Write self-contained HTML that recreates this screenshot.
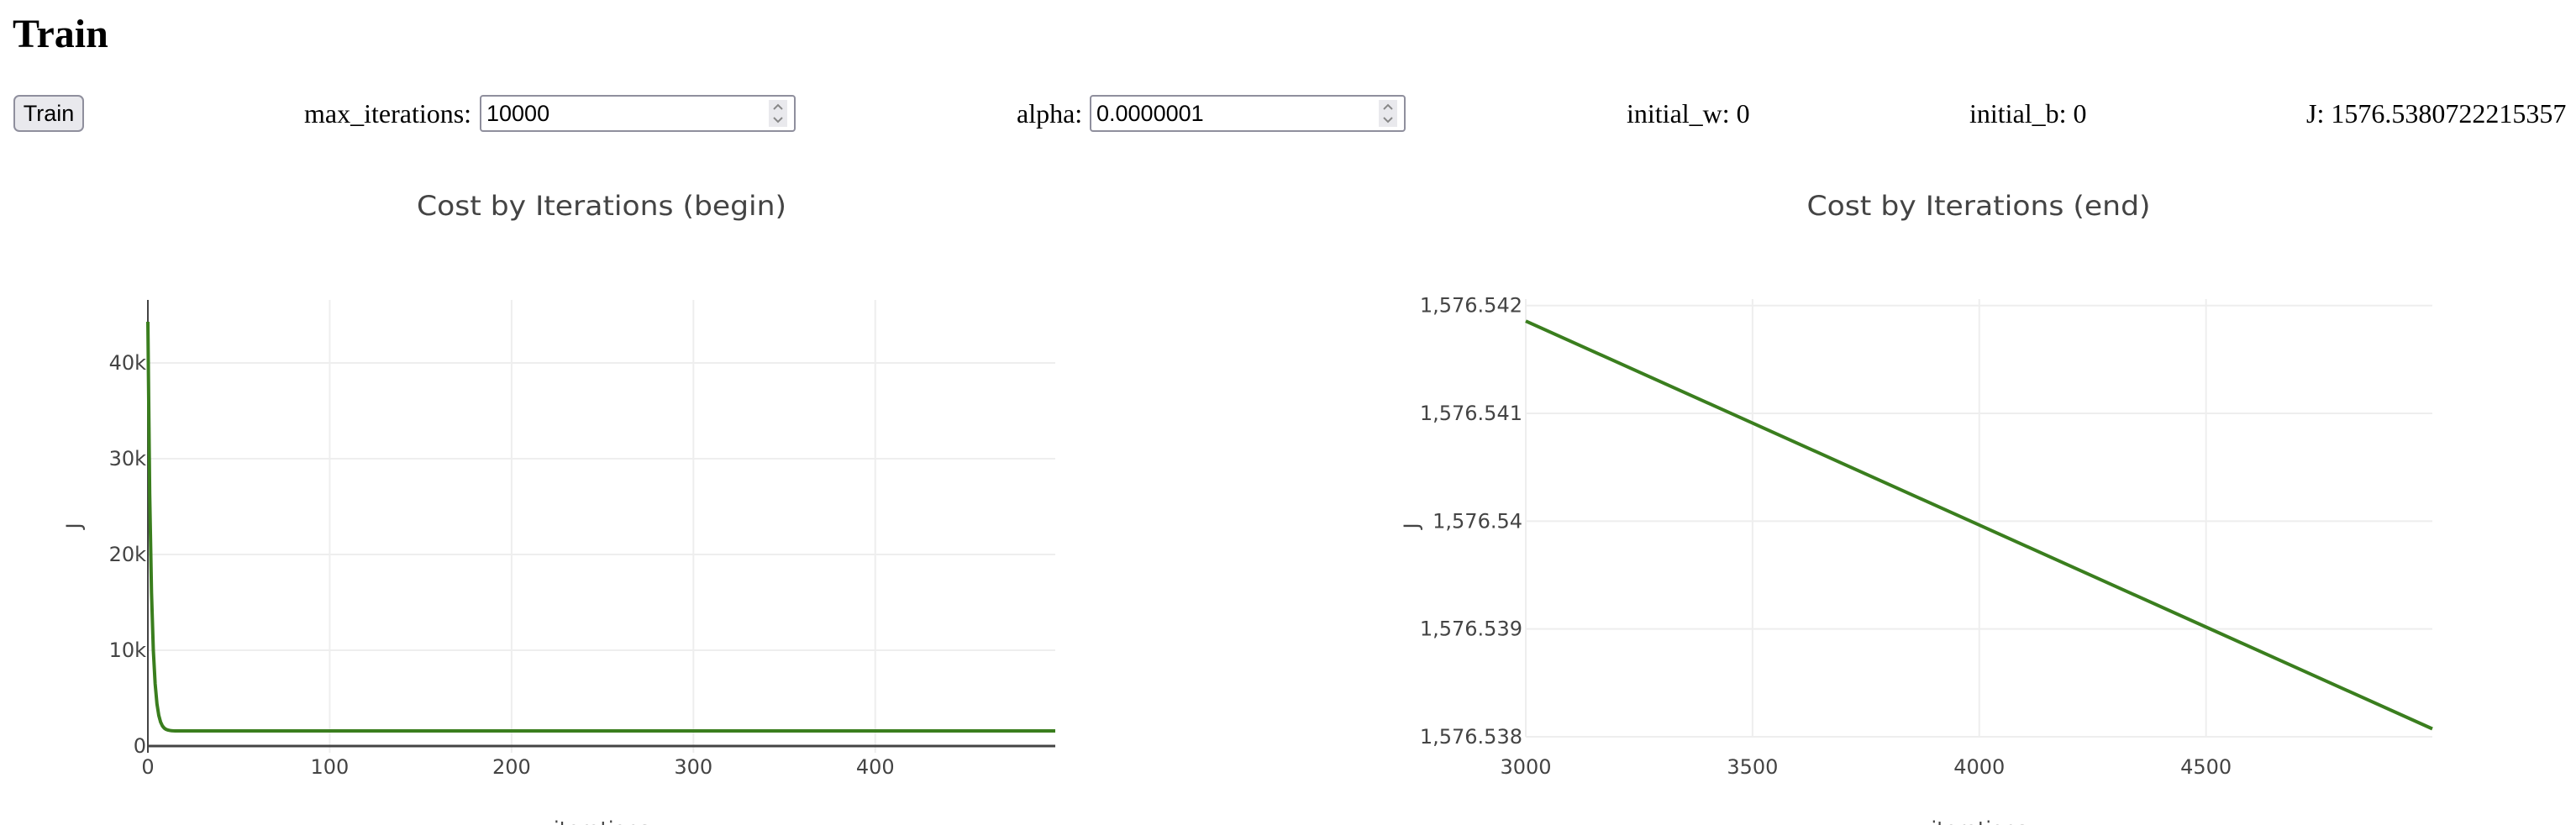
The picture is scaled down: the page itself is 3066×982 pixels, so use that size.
<!DOCTYPE html>
<html><head><meta charset="utf-8">
<style>
html,body{margin:0;padding:0;background:#fff;width:3066px;height:982px;overflow:hidden;position:relative;font-family:"Liberation Serif",serif;}
h1{position:absolute;left:15px;top:0;margin:0;font-size:48px;line-height:48px;font-weight:bold;padding-top:17px;}
.lbl{position:absolute;font-size:32px;top:113px;line-height:44px;white-space:nowrap;}
.btn{position:absolute;left:16px;top:113px;width:84px;height:44px;box-sizing:border-box;background:#e9e9ed;border:2px solid #8f8f9d;border-radius:7px;font-family:"Liberation Sans",sans-serif;font-size:27px;line-height:40px;text-align:center;}
.inp{position:absolute;top:113px;height:44px;box-sizing:border-box;border:2px solid #8f8f9d;border-radius:4px;background:#fff;font-family:"Liberation Sans",sans-serif;font-size:27px;line-height:40px;padding-left:6px;}
.spin{position:absolute;right:8px;top:4px;width:22px;height:32px;background:#e9e9ed;}
svg{position:absolute;left:0;top:0;}
</style></head><body>
<h1>Train</h1>
<div class="btn">Train</div>
<div class="lbl" style="left:362px">max_iterations:</div>
<div class="inp" style="left:571px;width:376px">10000<div class="spin"><svg width="22" height="32"><path d="M6 11 L11 6 L16 11 M6 21 L11 26 L16 21" stroke="#888" stroke-width="2" fill="none"/></svg></div></div>
<div class="lbl" style="left:1210px">alpha:</div>
<div class="inp" style="left:1297px;width:376px">0.0000001<div class="spin"><svg width="22" height="32"><path d="M6 11 L11 6 L16 11 M6 21 L11 26 L16 21" stroke="#888" stroke-width="2" fill="none"/></svg></div></div>
<div class="lbl" style="left:1936px">initial_w: 0</div>
<div class="lbl" style="left:2344px">initial_b: 0</div>
<div class="lbl" style="left:2745px">J: 1576.5380722215357</div>

<svg id="chart" width="3066" height="982" style="pointer-events:none"></svg>
<script>
// Chart 1 data (begin)
const beginIters = [0,1,2,3,4,5,6,7,8,9,10,11,12,13,14,15,16,17,18,19,20,499];
const beginCost = [44300,26400,16000,10000,6500,4400,3200,2500,2100,1870,1740,1670,1630,1605,1592,1585,1581,1579,1578,1577,1577,1576.6];
const beginXTicks = [0,100,200,300,400];
const beginYTicks = [0,10000,20000,30000,40000];
const beginYTickLabels = ["0","10k","20k","30k","40k"];
// Chart 2 data (end)
const endIters = [3000,3500,4000,4500,4999];
const endCost = [1576.541856,1576.540910,1576.539964,1576.539018,1576.538074];
const endXTicks = [3000,3500,4000,4500];
const endYTicks = [1576.538,1576.539,1576.540,1576.541,1576.542];
const endYTickLabels = ["1,576.538","1,576.539","1,576.54","1,576.541","1,576.542"];

const NS="http://www.w3.org/2000/svg";
const svg=document.getElementById('chart');
function mk(tag,attrs,parent){const e=document.createElementNS(NS,tag);for(const k in attrs)e.setAttribute(k,attrs[k]);(parent||svg).appendChild(e);return e;}
function lin(d0,d1,r0,r1){return v=>r0+(v-d0)/(d1-d0)*(r1-r0);}

function chart(o){
  const g=mk('g',{});
  
  
  const x=lin(o.xr[0],o.xr[1],o.L,o.R), y=lin(o.yr[0],o.yr[1],o.B,o.T);
  o.xt.forEach(v=>{const l=mk('line',{x1:x(v),x2:x(v),y1:o.T,y2:o.B,stroke:'#eee','stroke-width':2},g);
    
    const t=mk('text',{x:x(v),y:o.xlY,'text-anchor':'middle','font-size':24,fill:'#444','font-family':'DejaVu Sans, sans-serif'},g);t.textContent=String(v);
    });
  o.yt.forEach((v,i)=>{const l=mk('line',{x1:o.L,x2:o.R,y1:y(v),y2:y(v),stroke:'#eee','stroke-width':2},g);
    
    const t=mk('text',{x:o.ylX,y:y(v)+8,'text-anchor':'end','font-size':24,fill:'#444','font-family':'DejaVu Sans, sans-serif'},g);t.textContent=o.ytl[i];
    });
  if(o.zero){const z=mk('line',{x1:o.L,x2:o.R,y1:y(0),y2:y(0),stroke:'#444','stroke-width':3},g);
    
    const a=mk('line',{x1:o.L,x2:o.L,y1:o.T,y2:o.B,stroke:'#444','stroke-width':2},g);
    }
  let d='';o.xs.forEach((v,i)=>{d+=(i?'L':'M')+x(v).toFixed(2)+' '+y(o.ys[i]).toFixed(2);});
  const p=mk('path',{d:d,fill:'none',stroke:'#3a7e1e','stroke-width':4,'stroke-linejoin':'round'},g);
  
  const tt=mk('text',{x:o.tx,y:256,'text-anchor':'middle','font-size':32,fill:'#444','font-family':'DejaVu Sans, sans-serif',textLength:o.tw,lengthAdjust:'spacingAndGlyphs'},g);tt.textContent=o.title;
  
  const jy=mk('text',{x:0,y:0,'text-anchor':'middle','font-size':24,fill:'#444','font-family':'DejaVu Sans, sans-serif',transform:`translate(${o.jx},${o.jy}) rotate(-90)`},g);jy.textContent='J';
  
  const xt=mk('text',{x:(o.L+o.R)/2,y:995,'text-anchor':'middle','font-size':24,fill:'#444','font-family':'DejaVu Sans, sans-serif'},g);xt.textContent='iterations';
  
}
chart({name:'cost-chart-begin',L:176,R:1256,T:357,B:896,xr:[0,499],yr:[-700,46580],xt:beginXTicks,yt:beginYTicks,ytl:beginYTickLabels,xs:beginIters,ys:beginCost,zero:true,xlY:921,ylX:174,title:'Cost by Iterations (begin)',tx:716,tw:440,jx:96,jy:626});
chart({name:'cost-chart-end',L:1816,R:2895,T:356,B:877,xr:[3000,4999],yr:[1576.538,1576.54206],xt:endXTicks,yt:endYTicks,ytl:endYTickLabels,xs:endIters,ys:endCost,zero:false,xlY:921,ylX:1812,title:'Cost by Iterations (end)',tx:2355,tw:409,jx:1688,jy:626});
</script>
</body></html>
